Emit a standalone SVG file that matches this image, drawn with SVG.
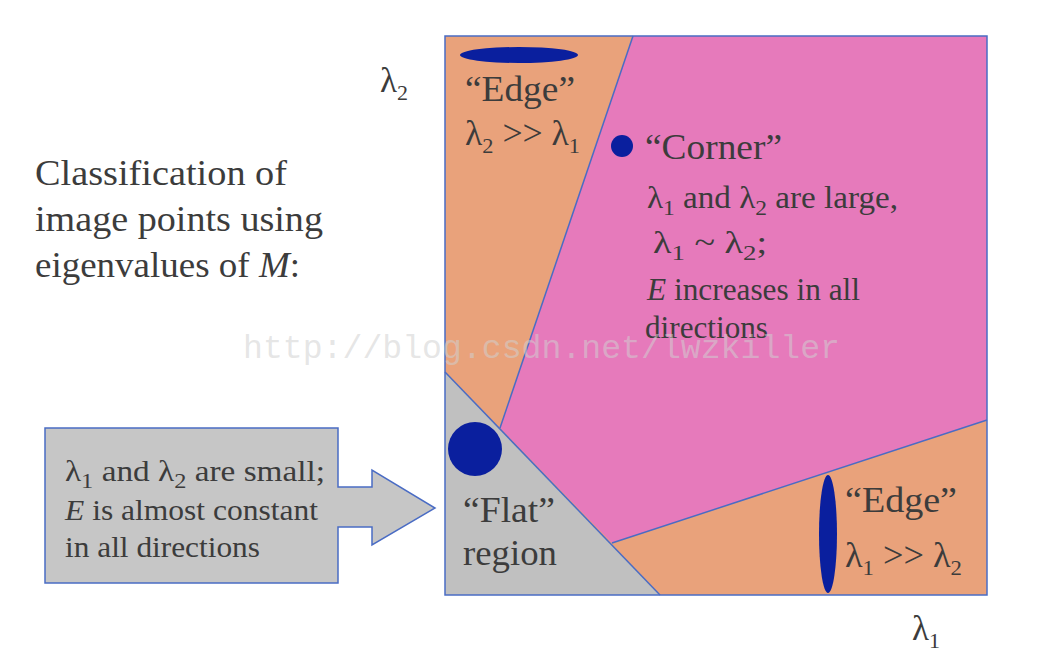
<svg xmlns="http://www.w3.org/2000/svg" width="1046" height="672" viewBox="0 0 1046 672">
<style>
.t{fill:#3c3c3c;}
.b{font-size:35px;}
.s{font-size:22px;}
.ln{stroke:#4a6cc4;stroke-width:1.5;fill:none;}
.blob{fill:#0a1f9e;}
</style>
<rect width="1046" height="672" fill="#ffffff"/>
<g id="regions">
<rect x="445" y="36" width="542" height="559" fill="#e9a27b"/>
<polygon points="633,36 987,36 987,420 612,543 500,428" fill="#e67abb"/>
<polygon points="445,372 445,595 660,595" fill="#c0c0c0"/>
</g>
<g id="connectors">
<line class="ln" x1="633" y1="36" x2="500" y2="428"/>
<line class="ln" x1="987" y1="420" x2="612" y2="543"/>
<line class="ln" x1="445" y1="372" x2="660" y2="595"/>
<rect class="ln" x="445" y="36" width="542" height="559"/>
</g>
<g font-family="Liberation Serif, Tinos, Times New Roman, DejaVu Serif, Noto Serif, serif">
<g id="axis-l2"><text class="t b" x="380" y="92">λ<tspan class="s" dy="8">2</tspan></text></g>
<g id="axis-l1"><text class="t b" x="912" y="640">λ<tspan class="s" dy="8">1</tspan></text></g>
<g id="title">
<text class="t b" x="35" y="185" textLength="252" lengthAdjust="spacingAndGlyphs">Classification of</text>
<text class="t b" x="35" y="231" textLength="288" lengthAdjust="spacingAndGlyphs">image points using</text>
<text class="t b" x="35" y="277" textLength="265" lengthAdjust="spacingAndGlyphs">eigenvalues of <tspan font-style="italic">M</tspan>:</text>
</g>
<g id="edge-top">
<ellipse class="blob" cx="519" cy="55" rx="59" ry="8"/>
<text class="t b" x="465" y="101" textLength="110" lengthAdjust="spacingAndGlyphs">“Edge”</text>
<text class="t b" x="465" y="145" textLength="115" lengthAdjust="spacingAndGlyphs">λ<tspan class="s" dy="8">2</tspan><tspan dy="-8"> &gt;&gt; λ</tspan><tspan class="s" dy="8">1</tspan></text>
</g>
<g id="corner">
<circle class="blob" cx="622" cy="146" r="11"/>
<text class="t b" x="645" y="159" textLength="137" lengthAdjust="spacingAndGlyphs">“Corner”</text>
<text class="t" font-size="31" x="647" y="208" textLength="251" lengthAdjust="spacingAndGlyphs">λ<tspan class="s" font-size="20" dy="7">1</tspan><tspan dy="-7"> and λ</tspan><tspan class="s" font-size="20" dy="7">2</tspan><tspan dy="-7"> are large,</tspan></text>
<text class="t" font-size="31" x="653" y="253" textLength="114" lengthAdjust="spacingAndGlyphs">λ<tspan class="s" font-size="20" dy="7">1</tspan><tspan dy="-7"> ~ λ</tspan><tspan class="s" font-size="20" dy="7">2</tspan><tspan dy="-7">;</tspan></text>
<text class="t" font-size="31" x="647" y="300" textLength="213" lengthAdjust="spacingAndGlyphs"><tspan font-style="italic">E</tspan> increases in all</text>
<text class="t" font-size="31" x="645" y="338" textLength="123" lengthAdjust="spacingAndGlyphs">directions</text>
</g>
<g id="flat">
<circle class="blob" cx="475" cy="449" r="27"/>
<text class="t b" x="463" y="522" textLength="92" lengthAdjust="spacingAndGlyphs">“Flat”</text>
<text class="t b" x="463" y="565" textLength="94" lengthAdjust="spacingAndGlyphs">region</text>
</g>
<g id="edge-bottom">
<ellipse class="blob" cx="828" cy="534" rx="9" ry="59"/>
<text class="t b" x="845" y="512" textLength="112" lengthAdjust="spacingAndGlyphs">“Edge”</text>
<text class="t b" x="845" y="567" textLength="117" lengthAdjust="spacingAndGlyphs">λ<tspan class="s" dy="8">1</tspan><tspan dy="-8"> &gt;&gt; λ</tspan><tspan class="s" dy="8">2</tspan></text>
</g>
<g id="callout">
<polygon points="45,428 338,428 338,487 372,487 372,470 435,508 372,545 372,527 338,527 338,583 45,583" fill="#c6c6c6" stroke="#4a6cc4" stroke-width="1.5"/>
<text class="t" font-size="30" x="65" y="481" textLength="260" lengthAdjust="spacingAndGlyphs">λ<tspan class="s" font-size="20" dy="7">1</tspan><tspan dy="-7"> and λ</tspan><tspan class="s" font-size="20" dy="7">2</tspan><tspan dy="-7"> are small;</tspan></text>
<text class="t" font-size="30" x="65" y="520" textLength="253" lengthAdjust="spacingAndGlyphs"><tspan font-style="italic">E</tspan> is almost constant</text>
<text class="t" font-size="30" x="65" y="557" textLength="195" lengthAdjust="spacingAndGlyphs">in all directions</text>
</g>
</g>
<g id="watermark">
<text x="243" y="358" font-family="Liberation Mono, Courier New, monospace" font-size="33" fill="#d0d0d0" fill-opacity="0.55" textLength="597" lengthAdjust="spacingAndGlyphs">http://blog.csdn.net/lwzkiller</text>
</g>
</svg>
